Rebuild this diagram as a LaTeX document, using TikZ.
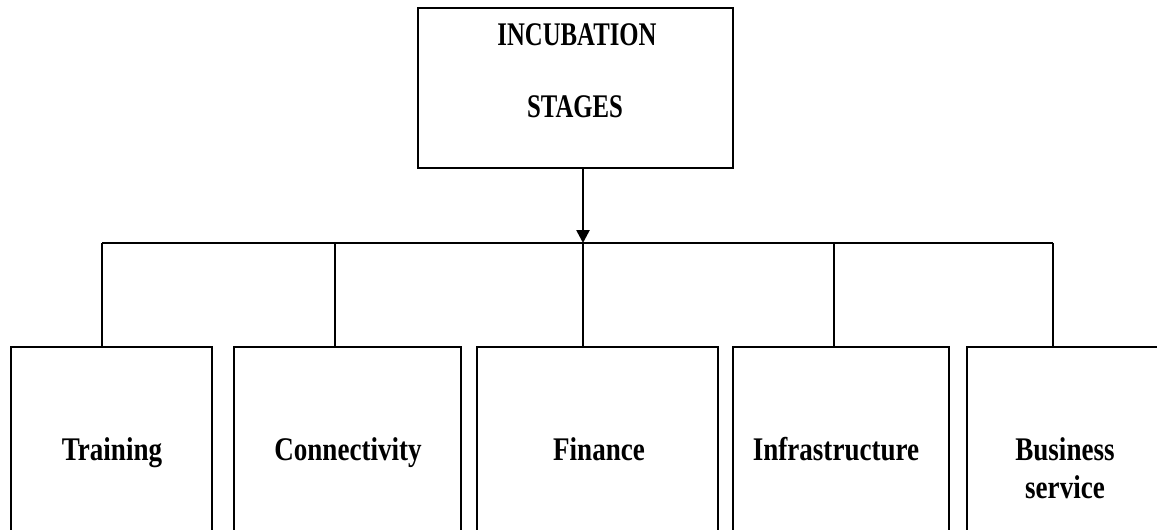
\documentclass[tikz,border=0pt]{standalone}
\usepackage{fontspec}
\setmainfont{Liberation Serif}
\newfontfamily\topfont{Liberation Serif}[FakeStretch=0.75]
\newfontfamily\lowfont{Liberation Serif}[FakeStretch=0.82]
\usetikzlibrary{arrows.meta}
\begin{document}
\begin{tikzpicture}[x=1pt,y=-1pt,
  box/.style={draw,line width=2.6pt,rectangle,inner sep=0pt},
  conn/.style={line width=2.6pt},
  ttxt/.style={font=\topfont\bfseries\fontsize{33}{38}\selectfont,inner sep=0pt,anchor=base},
  ltxt/.style={font=\lowfont\bfseries\fontsize{33}{38}\selectfont,inner sep=0pt,anchor=base}]
\useasboundingbox (0,0) rectangle (1157,530);
\clip (0,0) rectangle (1157,530);
% top box
\node[box,minimum width=315pt,minimum height=160pt] (top) at (575.5,88) {};
\node[ttxt] (t1) at (577,45) {INCUBATION};
\node[ttxt] (t2) at (575,117) {STAGES};
% bottom boxes
\node[box,minimum width=201pt,minimum height=206pt] (b1) at (111.5,450) {};
\node[box,minimum width=227pt,minimum height=206pt] (b2) at (347.5,450) {};
\node[box,minimum width=241pt,minimum height=206pt] (b3) at (597.5,450) {};
\node[box,minimum width=216pt,minimum height=206pt] (b4) at (841,450) {};
\node[box,minimum width=196pt,minimum height=206pt] (b5) at (1065,450) {};
\node[ltxt] (l1) at (112,460) {Training};
\node[ltxt] (l2) at (348,460) {Connectivity};
\node[ltxt] (l3) at (599,460) {Finance};
\node[ltxt] (l4) at (836,460) {Infrastructure};
\node[ltxt] (l5a) at (1065,460) {Business};
\node[ltxt] (l5b) at (1065,498) {service};
% connectors
\coordinate (bus) at (583,243);
\coordinate (j1) at (102,243);
\coordinate (j2) at (335,243);
\coordinate (j4) at (834,243);
\coordinate (j5) at (1053,243);
\draw[conn,-{Triangle[length=13pt,width=13pt]}] (top.south -| bus) -- (bus);
\draw[conn] (j1) -- (j5);
\draw[conn] (j1) -- (b1.north -| j1);
\draw[conn] (j2) -- (b2.north -| j2);
\draw[conn] (bus) -- (b3.north -| bus);
\draw[conn] (j4) -- (b4.north -| j4);
\draw[conn] (j5) -- (b5.north -| j5);
\end{tikzpicture}
\end{document}
